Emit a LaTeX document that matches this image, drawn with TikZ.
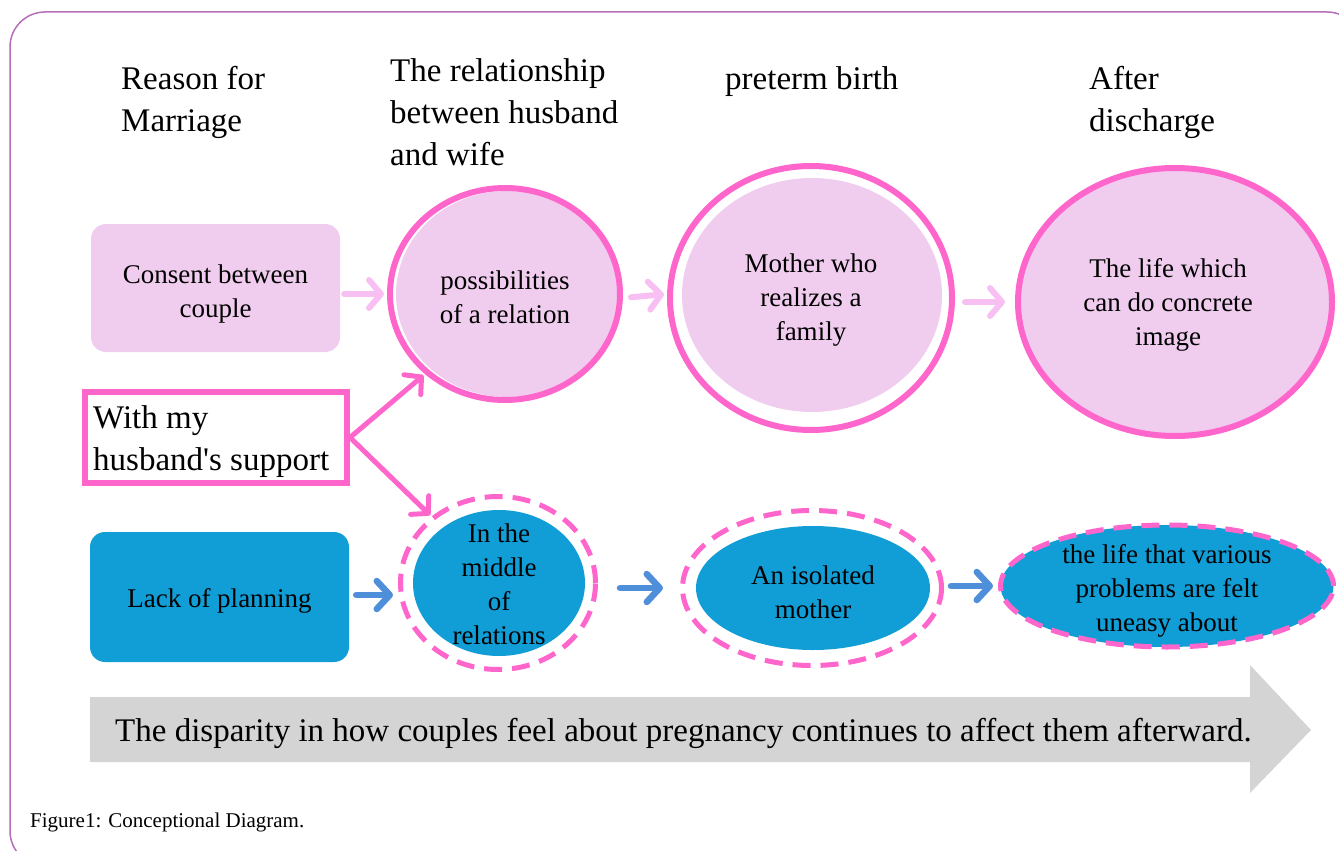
\documentclass[tikz,border=0pt]{standalone}
\usepackage{fontspec}
\setmainfont{Liberation Serif}
\usetikzlibrary{shapes.geometric,arrows.meta}
\definecolor{pinkfill}{RGB}{240,204,238}
\definecolor{hotpink}{RGB}{255,102,204}
\definecolor{lightpinkarrow}{RGB}{248,192,242}
\definecolor{bluefill}{RGB}{17,157,214}
\definecolor{bluearrow}{RGB}{79,142,217}
\definecolor{framec}{RGB}{179,111,184}
\definecolor{grayarrow}{RGB}{212,212,212}
\tikzset{
  hdr/.style={inner sep=0pt, align=left, anchor=west, font=\fontsize{33}{42}\selectfont},
  body/.style={inner sep=0pt, align=center, font=\fontsize{27}{34}\selectfont},
  ring/.style={ellipse, draw=hotpink, line width=6pt, inner sep=0pt},
  dring/.style={ellipse, draw=hotpink, line width=5pt, dash pattern=on 18pt off 10pt, inner sep=0pt},
  efill/.style={ellipse, inner sep=0pt},
  parrow/.style={draw=lightpinkarrow, line width=6pt, line cap=round, -{Straight Barb[round,length=12pt,width=28pt]}},
  barrow/.style={draw=bluearrow, line width=6.5pt, line cap=round, -{Straight Barb[round,length=13pt,width=28pt]}},
  harrow/.style={draw=hotpink, line width=5pt, line cap=round, -{Straight Barb[round,length=12pt,width=26pt]}},
}
\begin{document}
\begin{tikzpicture}[x=1pt,y=-1pt]
\useasboundingbox (0,0) rectangle (1339,851);
\begin{scope}
\clip (0,0) rectangle (1339,851);
\draw[framec, line width=1.5pt, rounded corners=35pt] (10,12) rectangle (1362,866);
\end{scope}

% headers
\node[hdr] (h1) at (121,102) {Reason for\\Marriage};
\node[hdr] (h2) at (390,112) {The relationship\\between husband\\and wife};
\node[hdr] (h3) at (725,82) {preterm birth};
\node[hdr] (h4) at (1089,102) {After\\discharge};

% top row
\node[body, fill=pinkfill, rounded corners=15pt, minimum width=249pt, minimum height=128pt] (cons) at (215.5,288) {};
\node[body] (const) at (215.5,294) {Consent between\\couple};

\node[efill, fill=pinkfill, minimum width=222pt, minimum height=206pt] (c1f) at (507,294) {};
\node[ring, minimum width=230pt, minimum height=212pt] (c1) at (505,294) {};
\node[body] (c1t) at (505,297) {possibilities\\of a relation};

\node[efill, fill=pinkfill, minimum width=260pt, minimum height=234pt] (c2f) at (812,295) {};
\node[ring, minimum width=282pt, minimum height=264pt] (c2) at (811,298) {};
\node[body] (c2t) at (811,300) {Mother who\\realizes a\\family};

\node[ring, fill=pinkfill, minimum width=314pt, minimum height=268pt] (c3) at (1175,302) {};
\node[body] (c3t) at (1168,305) {The life which\\can do concrete\\image};

% support box
\node[draw=hotpink, fill=white, line width=6pt, inner sep=0pt, minimum width=262pt, minimum height=91pt] (sup) at (216,437.5) {};
\node[inner sep=0pt, anchor=west, align=left, font=\fontsize{33}{42}\selectfont] (supt) at (93,442) {With my\\husband\textquotesingle s support};

% bottom row
\node[body, fill=bluefill, rounded corners=15pt, minimum width=259pt, minimum height=130pt] (lack) at (219.5,597) {};
\node[body] (lackt) at (219.5,601) {Lack of planning};

\node[efill, fill=bluefill, minimum width=172pt, minimum height=146pt] (b1f) at (499,583) {};
\node[dring, minimum width=195pt, minimum height=173pt] (b1) at (498,583) {};
\node[body] (b1t) at (499,584) {In the\\middle\\of\\relations};

\node[efill, fill=bluefill, minimum width=234pt, minimum height=124pt] (b2f) at (813,588) {};
\node[dring, minimum width=259pt, minimum height=155pt] (b2) at (812,588) {};
\node[body] (b2t) at (813,592) {An isolated\\mother};

\node[dring, fill=bluefill, minimum width=333pt, minimum height=122pt] (b3) at (1167,586) {};
\node[body] (b3t) at (1167,591) {the life that various\\problems are felt\\uneasy about};

% arrows
\draw[parrow, shorten <=4pt, shorten >=3pt] (cons.east |- c1.west) -- (c1.west);
\draw[parrow, shorten <=8pt, shorten >=3pt] (c1.east |- c2.west) -- (c2.west |- c1.east);
\draw[parrow, shorten <=10pt, shorten >=10pt] (c2.east |- c3.west) -- (c3.west);

\draw[harrow, shorten <=2pt, shorten >=2pt] (sup.east) -- (c1.225);
\draw[harrow, shorten <=2pt, shorten >=2pt] (sup.east) -- (b1.135);

\draw[barrow, shorten <=7pt, shorten >=5pt] (lack.east |- 0,595) -- (b1.west |- 0,595);
\draw[barrow, shorten <=22pt, shorten >=17pt] (b1.east |- b2.west) -- (b2.west);
\draw[barrow, shorten <=7pt, shorten >=5pt] (b2.east |- b3.west) -- (b3.west);

% big arrow
\fill[grayarrow] (90,697) -- (1250,697) -- (1250,665) -- (1311,730) -- (1250,793) -- (1250,762) -- (90,762) -- cycle;
\node[inner sep=0pt, anchor=west, font=\fontsize{33}{40}\selectfont] (msg) at (115,733) {The disparity in how couples feel about pregnancy continues to affect them afterward.};

\node[inner sep=0pt, anchor=west, font=\fontsize{21}{25}\selectfont] (cap) at (30,822) {Figure1: Conceptional Diagram.};
\end{tikzpicture}
\end{document}
